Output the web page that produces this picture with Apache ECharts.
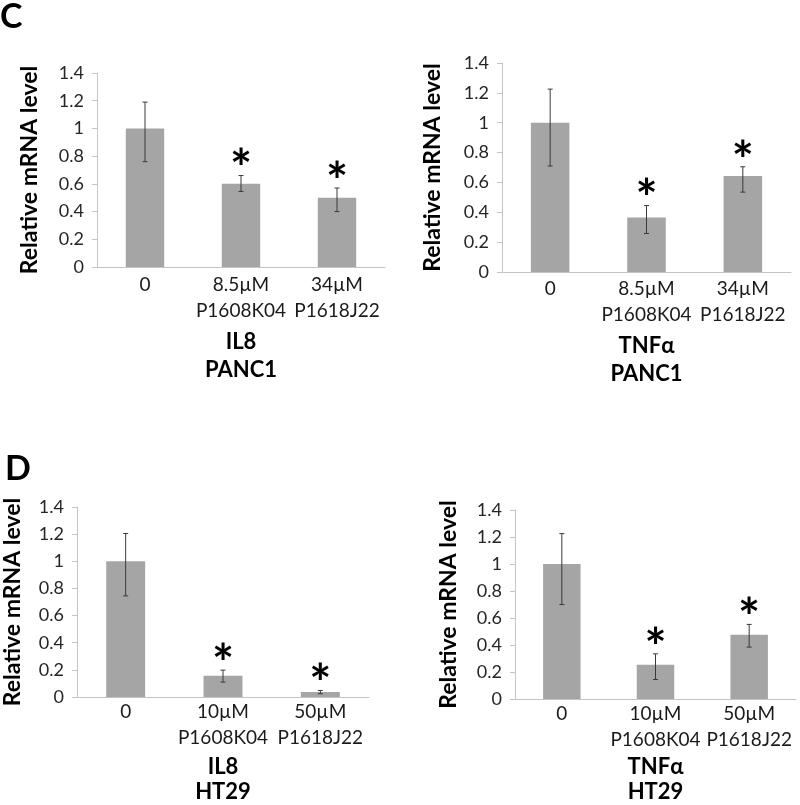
<!DOCTYPE html>
<html>
<head>
<meta charset="utf-8">
<script src="https://cdn.jsdelivr.net/npm/echarts@6/dist/echarts.min.js"></script>
<style>
html,body{margin:0;padding:0;background:#fff;}
#chart{width:800px;height:805px;}
</style>
</head>
<body>
<div id="chart"></div>
<script>
// ---------- data ----------
const categoriesC = ['0', '8.5µM\nP1608K04', '34µM\nP1618J22'];
const categoriesD = ['0', '10µM\nP1608K04', '50µM\nP1618J22'];
const yTicks = { min: 0, max: 1.4, interval: 0.2 };

const il8Panc1 = [1.0, 0.60, 0.50];
const il8Panc1Hi = [1.19, 0.66, 0.57];
const il8Panc1Lo = [0.76, 0.545, 0.40];

const tnfPanc1 = [1.0, 0.365, 0.643];
const tnfPanc1Hi = [1.225, 0.445, 0.705];
const tnfPanc1Lo = [0.71, 0.258, 0.535];

const il8Ht29 = [1.0, 0.157, 0.036];
const il8Ht29Hi = [1.205, 0.198, 0.048];
const il8Ht29Lo = [0.745, 0.11, 0.024];

const tnfHt29 = [1.0, 0.255, 0.477];
const tnfHt29Hi = [1.225, 0.335, 0.553];
const tnfHt29Lo = [0.70, 0.145, 0.385];

const significant = [0, 1, 1];

const yTitle = 'Relative mRNA level';
const panelNames = ['IL8\nPANC1', 'TNFα\nPANC1', 'IL8\nHT29', 'TNFα\nHT29'];
const panelLetters = ['C', 'D'];

// ---------- layout ----------
const panels = [
  { cats: categoriesC, vals: il8Panc1, hi: il8Panc1Hi, lo: il8Panc1Lo, grid: { left: 97, top: 73, width: 288, height: 194 }, labelMargin: 5, nameGap: 61, nameLH: 28, yNameGap: 56 },
  { cats: categoriesC, vals: tnfPanc1, hi: tnfPanc1Hi, lo: tnfPanc1Lo, grid: { left: 502, top: 63, width: 289, height: 209 }, labelMargin: 4, nameGap: 60, nameLH: 28, yNameGap: 58 },
  { cats: categoriesD, vals: il8Ht29, hi: il8Ht29Hi, lo: il8Ht29Lo, grid: { left: 77, top: 507, width: 292, height: 193 }, labelMargin: 2, nameGap: 57, nameLH: 25, yNameGap: 53 },
  { cats: categoriesD, vals: tnfHt29, hi: tnfHt29Hi, lo: tnfHt29Lo, grid: { left: 515, top: 510, width: 281, height: 195 }, labelMargin: 2, nameGap: 52, nameLH: 25, yNameGap: 55 }
];

const FONT = 'Lato, "Open Sans", sans-serif';
const axisGrey = '#c4c4c4';

const option = {
  animation: false,
  backgroundColor: '#fff',
  textStyle: { fontFamily: FONT },
  grid: [], xAxis: [], yAxis: [], series: [],
  graphic: [
    { type: 'text', left: 0, top: 0, style: { text: panelLetters[0], font: 'bold 34px ' + FONT, fill: '#000' } },
    { type: 'text', left: 5, top: 452, style: { text: panelLetters[1], font: 'bold 34px ' + FONT, fill: '#000' } }
  ]
};

panels.forEach((p, i) => {
  option.grid.push(Object.assign({ containLabel: false }, p.grid));
  option.xAxis.push({
    type: 'category', gridIndex: i, data: p.cats,
    axisLine: { lineStyle: { color: axisGrey, width: 1 } },
    axisTick: { show: false },
    axisLabel: { color: '#1a1a1a', fontSize: 19, lineHeight: 26, margin: p.labelMargin, interval: 0, fontFamily: FONT },
    name: panelNames[i], nameLocation: 'middle', nameGap: p.nameGap,
    nameTextStyle: { fontWeight: 'bold', fontSize: 22, lineHeight: p.nameLH, color: '#000', fontFamily: FONT }
  });
  option.yAxis.push({
    type: 'value', gridIndex: i, min: yTicks.min, max: yTicks.max, interval: yTicks.interval,
    axisLine: { show: true, lineStyle: { color: axisGrey, width: 1 } },
    axisTick: { show: true, length: 5, lineStyle: { color: axisGrey } },
    splitLine: { show: false },
    axisLabel: { color: '#262626', fontSize: 18, margin: 13, fontFamily: FONT },
    name: yTitle, nameLocation: 'middle', nameGap: p.yNameGap,
    nameTextStyle: { fontWeight: 'bold', fontSize: 23, color: '#000', fontFamily: FONT }
  });
  option.series.push({
    type: 'bar', xAxisIndex: i, yAxisIndex: i, data: p.vals,
    barWidth: '40%', itemStyle: { color: '#a5a5a5' }, silent: true
  });
  option.series.push({
    type: 'custom', xAxisIndex: i, yAxisIndex: i,
    data: p.vals.map((v, k) => [k, p.hi[k], p.lo[k], significant[k]]),
    renderItem: function (params, api) {
      const top = api.coord([api.value(0), api.value(1)]);
      const bot = api.coord([api.value(0), api.value(2)]);
      const x = top[0];
      const cap = 2.5;
      const lineStyle = { stroke: '#3a3a3a', lineWidth: 1 };
      const children = [
        { type: 'line', shape: { x1: x, y1: top[1], x2: x, y2: bot[1] }, style: lineStyle },
        { type: 'line', shape: { x1: x - cap, y1: top[1], x2: x + cap, y2: top[1] }, style: lineStyle },
        { type: 'line', shape: { x1: x - cap, y1: bot[1], x2: x + cap, y2: bot[1] }, style: lineStyle }
      ];
      if (api.value(3)) {
        children.push({
          type: 'text', x: x, y: top[1] - 5,
          style: { text: '*', font: 'bold 52px ' + FONT, fill: '#000', align: 'center', verticalAlign: 'middle' }
        });
      }
      return { type: 'group', children: children };
    },
    silent: true, z: 5
  });
});

const chart = echarts.init(document.getElementById('chart'), null, { renderer: 'canvas' });
chart.setOption(option);
</script>
</body>
</html>
